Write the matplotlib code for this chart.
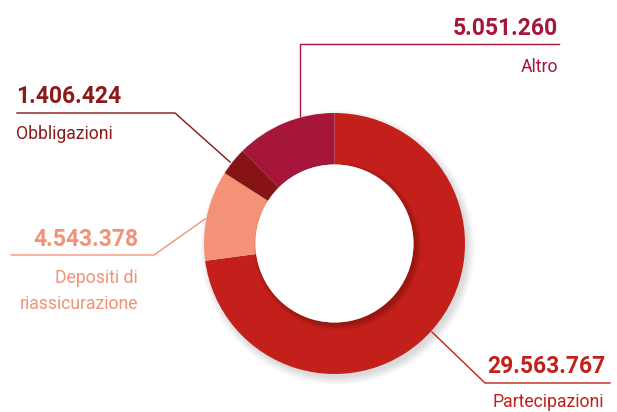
import matplotlib
matplotlib.use("Agg")
import matplotlib.pyplot as plt
from matplotlib.patches import Circle, Wedge

# Data
categories = ["Partecipazioni", "Depositi di\nriassicurazione", "Obbligazioni", "Altro"]
values = [29563767, 4543378, 1406424, 5051260]
value_labels = ["29.563.767", "4.543.378", "1.406.424", "5.051.260"]
colors = ["#C3201B", "#F39276", "#861414", "#A5163A"]
text_colors = ["#C3201B", "#F39276", "#8B1A1A", "#A5163A"]

FAMILY = "Roboto"

W, H = 617, 412
fig = plt.figure(figsize=(W / 100, H / 100), dpi=100)
ax = fig.add_axes([0, 0, 1, 1])

cx, cy, R = 334.5, H - 243.5, 130.5
r_in = 79.0
ring = R - r_in

# soft drop shadow under the outer edge of the ring
for i in range(12):
    ax.add_patch(Wedge((cx + 3, cy - 4), R + 7 - i * 0.7, 0, 360,
                       width=ring + 10, color="#000000", alpha=0.010,
                       lw=0, zorder=0))

ax.pie(values, colors=colors, startangle=90, counterclock=False, radius=R,
       center=(cx, cy), wedgeprops=dict(width=ring, edgecolor="none"))

# the centre disc casts a faint shadow onto the ring
for i in range(10):
    ax.add_patch(Circle((cx + 3, cy - 3), r_in + 5 - i * 0.6, color="#000000",
                        alpha=0.018, lw=0, zorder=3))
ax.add_patch(Circle((cx, cy), r_in, color="white", lw=0, zorder=4))

ax.set_xlim(0, W)
ax.set_ylim(0, H)
ax.set_aspect("equal")
ax.axis("off")


def Y(y):
    return H - y


num_kw = dict(family=FAMILY, fontweight="bold", fontsize=16.5, va="baseline")
lab_kw = dict(family=FAMILY, fontsize=12.7, va="baseline")
LW = 1.0

# Altro
c, tc = colors[3], text_colors[3]
ax.plot([300, 300, 559], [Y(116), Y(44), Y(44)], color=c, lw=LW)
ax.text(558, Y(35), value_labels[3], color=tc, ha="right", **num_kw)
ax.text(558, Y(72), categories[3], color=tc, ha="right", **lab_kw)

# Obbligazioni
c, tc = colors[2], text_colors[2]
ax.plot([17, 175, 230], [Y(113), Y(113), Y(162)], color=c, lw=LW)
ax.text(16, Y(103), value_labels[2], color=tc, ha="left", **num_kw)
ax.text(16, Y(139), categories[2], color=tc, ha="left", **lab_kw)

# Depositi di riassicurazione
c, tc = colors[1], text_colors[1]
ax.plot([11, 154, 205], [Y(255), Y(255), Y(219)], color=c, lw=LW)
ax.text(138, Y(246), value_labels[1], color=tc, ha="right", **num_kw)
for line, base in zip(categories[1].split("\n"), (283, 309)):
    ax.text(138, Y(base), line, color=tc, ha="right", **lab_kw)

# Partecipazioni
c, tc = colors[0], text_colors[0]
ax.plot([432, 485, 610], [Y(332), Y(383), Y(383)], color=c, lw=LW)
ax.text(606, Y(373), value_labels[0], color=tc, ha="right", **num_kw)
ax.text(492, Y(407), categories[0], color=tc, ha="left", **lab_kw)

fig.savefig("out.png", dpi=100)
